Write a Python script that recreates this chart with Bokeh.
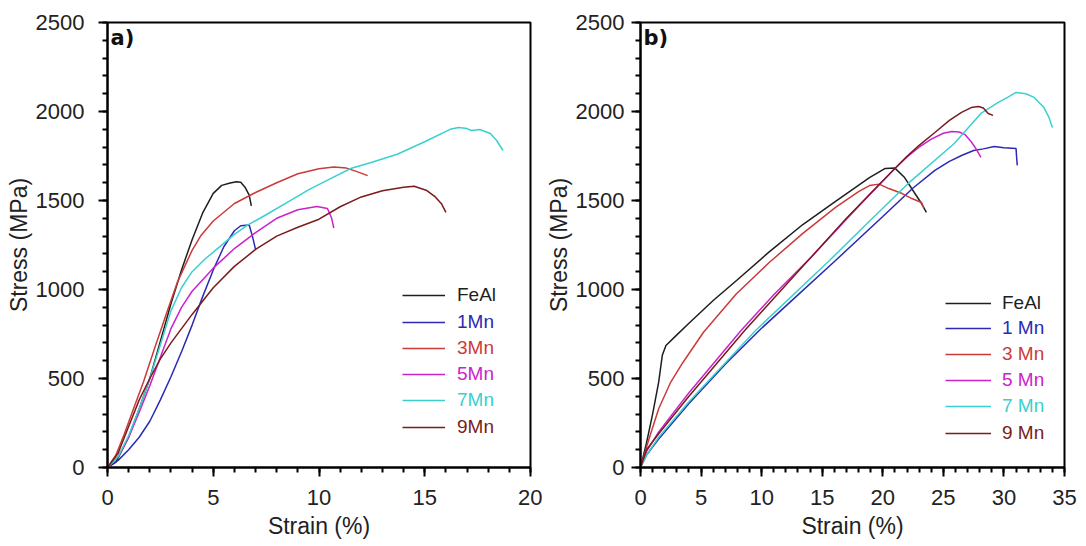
from bokeh.plotting import figure
from bokeh.models import Range1d, Legend, LegendItem, Label, SingleIntervalTicker
from bokeh.layouts import row
from bokeh.embed import file_html
from bokeh.resources import INLINE

# ---------------- data ----------------
names_a = ["FeAl", "1Mn", "3Mn", "5Mn", "7Mn", "9Mn"]
names_b = ["FeAl", "1 Mn", "3 Mn", "5 Mn", "7 Mn", "9 Mn"]
colors = ["#1e1e1e", "#2a2ab4", "#cc3a3a", "#cc22cc", "#3ccfcf", "#7a1c1c"]

# panel a)
a_feal_x = [0, 0.4, 1.0, 1.5, 2.0, 2.5, 3.0, 3.5, 4.0, 4.5, 5.0, 5.4, 5.8, 6.1, 6.3, 6.5, 6.7, 6.8]
a_feal_y = [0, 30, 170, 330, 500, 710, 920, 1110, 1280, 1430, 1540, 1585, 1598, 1605, 1602, 1575, 1530, 1470]
a_1mn_x = [0, 0.5, 1.0, 1.5, 2.0, 2.5, 3.0, 3.5, 4.0, 4.5, 5.0, 5.5, 6.0, 6.3, 6.7, 6.85, 7.0]
a_1mn_y = [0, 40, 100, 170, 260, 380, 510, 650, 800, 960, 1110, 1240, 1330, 1358, 1362, 1300, 1225]
a_3mn_x = [0, 0.4, 0.8, 1.2, 1.7, 2.2, 2.8, 3.3, 4.0, 4.4, 5.0, 6.0, 7.0, 8.0, 9.0, 10.0, 10.7, 11.3, 11.8, 12.3]
a_3mn_y = [0, 70, 190, 320, 480, 660, 870, 1040, 1220, 1300, 1385, 1483, 1545, 1600, 1650, 1678, 1688, 1682, 1662, 1640]
a_5mn_x = [0, 0.5, 1.0, 1.5, 2.0, 2.5, 3.0, 3.5, 4.0, 5.0, 6.0, 7.0, 8.0, 9.0, 9.9, 10.4, 10.6, 10.7]
a_5mn_y = [0, 60, 170, 310, 460, 620, 780, 900, 990, 1120, 1230, 1320, 1400, 1448, 1466, 1455, 1400, 1345]
a_7mn_x = [0, 0.5, 1.0, 1.5, 2.0, 2.5, 3.0, 3.5, 4.0, 4.6, 5.2, 6.0, 6.6, 7.5, 8.5, 9.5, 10.5, 11.5,
           12.5, 13.7, 15.0, 16.2, 16.6, 17.0, 17.2, 17.6, 18.1, 18.4, 18.7]
a_7mn_y = [0, 60, 180, 330, 500, 690, 880, 1010, 1100, 1170, 1230, 1310, 1360, 1420, 1490, 1560, 1620, 1680,
           1715, 1760, 1830, 1900, 1910, 1904, 1893, 1899, 1876, 1837, 1781]
a_9mn_x = [0, 0.5, 1.0, 1.5, 2.0, 2.5, 3.0, 3.5, 4.0, 5.0, 6.0, 7.0, 8.0, 9.0, 10.0, 11.0, 12.0, 13.0,
           14.0, 14.5, 15.1, 15.5, 15.8, 16.0]
a_9mn_y = [0, 80, 230, 380, 500, 610, 700, 780, 860, 1010, 1130, 1225, 1300, 1350, 1395, 1465, 1520, 1555,
           1575, 1580, 1556, 1520, 1480, 1433]

# panel b)
b_feal_x = [0, 0.5, 1.0, 1.5, 1.8, 2.1, 3.0, 4.0, 6.0, 8.0, 10.6, 13.4, 16.1, 18.9, 20.2, 21.0, 21.8, 22.6, 23.2, 23.6]
b_feal_y = [0, 140, 300, 480, 630, 685, 745, 810, 938, 1055, 1210, 1365, 1495, 1629, 1680, 1682, 1629, 1545, 1483, 1433]
b_1mn_x = [0, 0.5, 1.5, 4.0, 7.0, 9.8, 13.0, 16.1, 20.0, 22.5, 24.3, 25.5, 26.5, 27.5, 28.3, 29.2, 30.0, 31.0, 31.05, 31.1]
b_1mn_y = [0, 70, 160, 360, 580, 770, 970, 1163, 1410, 1570, 1669, 1720, 1753, 1781, 1790, 1803, 1797, 1792, 1740, 1697]
b_3mn_x = [0, 0.7, 1.5, 2.5, 3.5, 5.2, 7.9, 10.6, 13.4, 16.1, 18.0, 18.9, 19.7, 20.5, 21.6, 22.4, 23.2, 23.4]
b_3mn_y = [0, 160, 330, 480, 590, 760, 975, 1150, 1315, 1461, 1550, 1584, 1592, 1567, 1539, 1511, 1489, 1455]
b_5mn_x = [0, 0.5, 1.5, 4.0, 8.3, 11.0, 14.2, 17.0, 19.0, 21.0, 22.0, 23.0, 24.0, 25.0, 25.7, 26.3, 26.8, 27.3, 27.7, 28.1]
b_5mn_y = [0, 90, 200, 420, 770, 970, 1190, 1395, 1540, 1680, 1745, 1800, 1845, 1878, 1888, 1885, 1870, 1830, 1790, 1742]
b_7mn_x = [0, 0.5, 1.5, 4.0, 9.5, 15.6, 19.0, 22.1, 25.9, 28.1, 29.5, 30.3, 31.0, 31.8, 32.5, 33.3, 33.7, 34.0]
b_7mn_y = [0, 70, 170, 370, 770, 1163, 1390, 1596, 1820, 1989, 2050, 2079, 2107, 2100, 2079, 2022, 1970, 1910]
b_9mn_x = [0, 0.5, 1.5, 4.0, 8.6, 13.4, 17.0, 21.0, 22.0, 23.0, 24.3, 25.5, 26.5, 27.3, 27.9, 28.3, 28.7, 29.1]
b_9mn_y = [0, 100, 190, 400, 770, 1130, 1400, 1680, 1748, 1810, 1882, 1950, 1995, 2022, 2028, 2020, 1989, 1978]

series_a = [(a_feal_x, a_feal_y), (a_1mn_x, a_1mn_y), (a_3mn_x, a_3mn_y),
            (a_5mn_x, a_5mn_y), (a_7mn_x, a_7mn_y), (a_9mn_x, a_9mn_y)]
series_b = [(b_feal_x, b_feal_y), (b_1mn_x, b_1mn_y), (b_3mn_x, b_3mn_y),
            (b_5mn_x, b_5mn_y), (b_7mn_x, b_7mn_y), (b_9mn_x, b_9mn_y)]

FONT = "Liberation Sans"


def make_panel(series, names, xmax, width, border_left, border_right, ylabel_standoff,
               legend_x, legend_rows_y, glyph_w, standoff, tag):
    p = figure(width=width, height=546, output_backend="svg", toolbar_location=None,
               x_range=Range1d(0, xmax), y_range=Range1d(0, 2500),
               min_border_left=border_left, min_border_right=border_right,
               min_border_top=22, min_border_bottom=79)
    p.xgrid.visible = False
    p.ygrid.visible = False
    p.outline_line_color = "black"
    p.outline_line_width = 2
    p.outline_line_alpha = 1
    p.background_fill_color = "white"
    p.border_fill_color = "white"

    p.xaxis.ticker = SingleIntervalTicker(interval=5, num_minor_ticks=5)
    p.yaxis.ticker = SingleIntervalTicker(interval=500, num_minor_ticks=5)
    for ax in (p.xaxis[0], p.yaxis[0]):
        ax.axis_line_width = 2
        ax.axis_line_color = "black"
        ax.major_tick_in = 0
        ax.major_tick_out = 9
        ax.minor_tick_in = 0
        ax.minor_tick_out = 5
        ax.major_tick_line_width = 2
        ax.minor_tick_line_width = 2
        ax.major_label_text_font = FONT
        ax.major_label_text_font_size = "22px"
        ax.major_label_text_color = "#222222"
        ax.axis_label_text_font = FONT
        ax.axis_label_text_font_size = "23px"
        ax.axis_label_text_font_style = "normal"
        ax.axis_label_text_color = "#222222"
    p.xaxis.axis_label = "Strain (%)"
    p.yaxis.axis_label = "Stress (MPa)"
    p.xaxis.major_label_standoff = 13
    p.xaxis.axis_label_standoff = 5
    p.yaxis.major_label_standoff = ylabel_standoff
    p.yaxis.axis_label_standoff = 1

    for i, (xs, ys) in enumerate(series):
        r = p.line(xs, ys, line_color=colors[i], line_width=1.5)
        lg = Legend(items=[LegendItem(label=names[i], renderers=[r])],
                    location=(legend_x, legend_rows_y[i] - 11),
                    padding=0, margin=0, spacing=0,
                    border_line_alpha=0, background_fill_alpha=0,
                    glyph_width=glyph_w, glyph_height=22, label_height=22,
                    label_standoff=standoff,
                    label_text_font=FONT, label_text_font_size="19px",
                    label_text_color=colors[i])
        p.add_layout(lg)

    p.add_layout(Label(x=0, y=2500, x_offset=3, y_offset=-3, text=tag,
                       text_baseline="top", text_font="DejaVu Sans",
                       text_font_style="bold", text_font_size="21px", text_color="#111111"))
    return p


pa = make_panel(series_a, names_a, 20, 542, 107, 12, 14,
                295, [172, 145, 119, 93, 67, 40], 43, 12, "a)")
pb = make_panel(series_b, names_b, 35, 544, 95, 22, 7,
                305, [164, 139, 113, 87, 61, 34], 46, 11, "b)")

layout = row(pa, pb)
open("out.html", "w").write(file_html(layout, INLINE))
